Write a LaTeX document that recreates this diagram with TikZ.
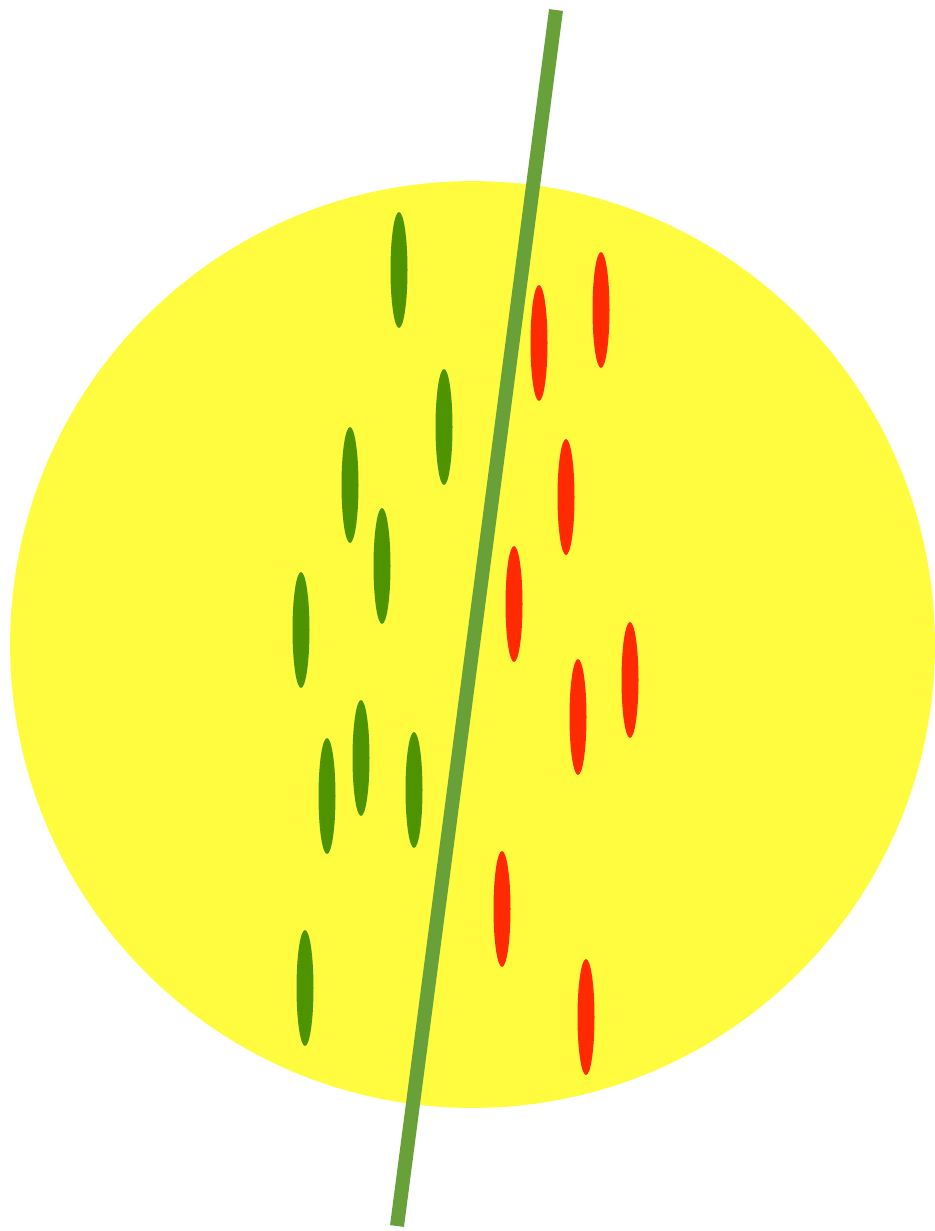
\documentclass[tikz,border=0pt]{standalone}
\usepackage{xcolor}
\definecolor{disc}{HTML}{FFFB3F}
\definecolor{leafgreen}{HTML}{4E9400}
\definecolor{leafred}{HTML}{FF2A00}
\definecolor{stem}{HTML}{68A03A}

\begin{document}
\begin{tikzpicture}[
  x=0.02cm, y=-0.02cm,
  greenseed/.style={fill=leafgreen, draw=none},
  redseed/.style={fill=leafred, draw=none},
  divider/.style={draw=stem, line width=0.28cm}
]
\useasboundingbox (0,0) rectangle (935,1231);

% Disc
\fill[disc] (472.5,644.5) ellipse [x radius=9.25cm, y radius=9.27cm];

% Dividing line
\coordinate (top) at (556,10);
\coordinate (bottom) at (397,1226);
\draw[divider] (top) -- (bottom);

% Green seeds
\foreach \sx/\sy in {399/270, 444/427, 350/485, 382/566, 301/630,
                     361/758, 327/796, 414/790, 305/988}
  \fill[greenseed] (\sx,\sy) ellipse [x radius=0.17cm, y radius=1.16cm];

% Red seeds
\foreach \sx/\sy in {601/310, 539/343, 566/497, 514/604, 630/680,
                     578/717, 502/909, 586/1017}
  \fill[redseed] (\sx,\sy) ellipse [x radius=0.17cm, y radius=1.16cm];

\end{tikzpicture}
\end{document}
